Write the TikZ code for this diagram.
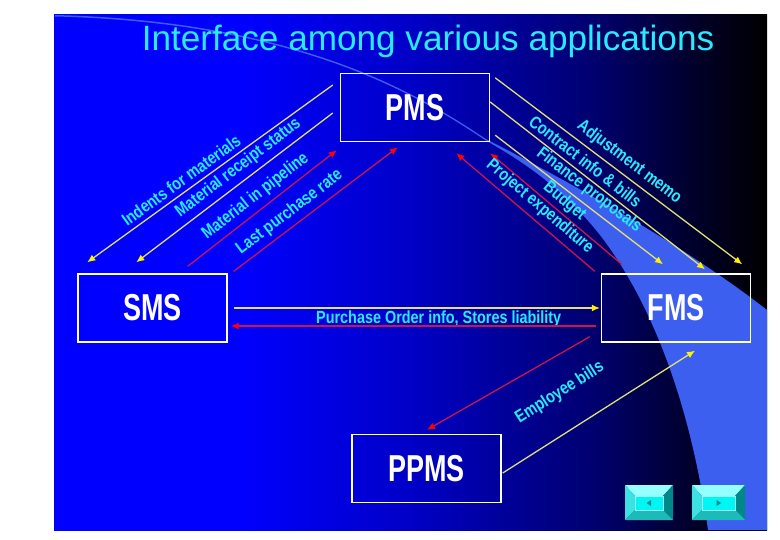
\documentclass[tikz,border=0pt]{standalone}
\usepackage{fontspec}
\setmainfont{Liberation Sans}
\newfontfamily\labfont[FakeStretch=0.82]{Liberation Sans}
\newfontfamily\boxfont[FakeStretch=0.72]{Liberation Sans}
\usepackage{xcolor}
\usepackage{tikz}
\usetikzlibrary{arrows.meta,calc}

\definecolor{slidecyan}{RGB}{40,235,255}
\definecolor{wedgeblue}{RGB}{60,95,240}
\definecolor{yline}{RGB}{225,225,120}
\definecolor{rline}{RGB}{205,20,75}
\definecolor{btnface}{RGB}{0,245,245}
\definecolor{btnlight}{RGB}{150,255,255}
\definecolor{btnmid}{RGB}{60,225,225}
\definecolor{btnlow}{RGB}{30,185,185}
\definecolor{btndark}{RGB}{0,135,135}

\pgfdeclarehorizontalshading{slidebg}{100bp}{color(0bp)=(blue); color(38bp)=(blue);
  color(50bp)=(blue!78!black); color(63bp)=(blue!43!black); color(70bp)=(blue!16!black);
  color(75bp)=(black); color(100bp)=(black)}

\begin{document}
\begin{tikzpicture}[x=0.03cm, y=-0.03cm,
  appbox/.style={draw=white, line width=1.2pt, minimum width=4.47cm, minimum height=2.04cm,
    inner sep=0pt, text=white, font=\boxfont\bfseries\fontsize{32}{32}\selectfont},
  yarrow/.style={draw=yline, line width=1.1pt, -{Latex[length=2.4mm, width=2.1mm, color=yellow]}},
  rarrow/.style={draw=rline, line width=1.1pt, -{Latex[length=2.4mm, width=2.1mm, color=red]}},
  lab/.style={font=\labfont\bfseries\fontsize{15}{15}\selectfont, text=slidecyan,
    sloped, above, inner sep=4pt}]
  \useasboundingbox (0,0) rectangle (780,540);
  % slide background
  \shade[shading=slidebg] (54,15) rectangle (767,530);
  \fill[wedgeblue] (55,15) .. controls (300,21) and (420,95) .. (485,138.5)
    .. controls (558,176) and (680,242) .. (767,310) -- (767,530) -- (708,530)
    .. controls (690,400) and (650,300) .. (600,235)
    .. controls (560,185) and (520,160) .. (485,140)
    .. controls (420,96.5) and (300,22.5) .. (55,16.5) -- cycle;
  \node[font=\fontsize{30}{30}\selectfont, text=slidecyan, anchor=base] (title) at (428,51)
    {Interface among various applications};

  \node[appbox] (pms)  at (415,107.5) {PMS};
  \node[appbox] (sms)  at (152.5,308) {SMS};
  \node[appbox] (fms)  at (676,308)   {FMS};
  \node[appbox] (ppms) at (426.5,468.5) {PPMS};

  % PMS and SMS
  \draw[yarrow] ($(pms.west)+(-7,-22.5)$) -- ($(sms.north west)+(10,-11)$)
    node[lab, pos=0.59] {Indents for materials};
  \draw[yarrow] ($(pms.west)+(-7,5.5)$) -- ($(sms.north west)+(59,-11)$)
    node[lab, pos=0.44] {Material receipt status};
  \draw[rarrow] ($(sms.north east)+(-40,-7)$) -- ($(pms.south west)+(-3,8)$)
    node[lab, pos=0.51] {Material in pipeline};
  \draw[rarrow] ($(sms.north east)+(6,-2)$) -- ($(pms.south west)+(58,5)$)
    node[lab, pos=0.39] {Last purchase rate};
  % PMS and FMS
  \draw[yarrow] ($(pms.north east)+(5,5)$) -- ($(fms.north east)+(-9,-9)$)
    node[lab, pos=0.51] {Adjustment memo};
  \draw[yarrow] ($(pms.east)+(0,-5.5)$) -- ($(fms.north)+(29,-4)$)
    node[lab, pos=0.41] {Contract info \& bills};
  \draw[yarrow] ($(pms.south east)+(5,-7)$) -- ($(fms.north)+(-13,-9)$)
    node[lab, pos=0.51] {Finance proposals};
  \draw[rarrow] ($(fms.north west)+(21,-9)$) -- ($(pms.south east)+(0,11)$)
    node[lab, pos=0.49, inner sep=2pt] {Budget};
  \draw[rarrow] ($(fms.north west)+(-6,-2)$) -- ($(pms.south east)+(-34,11)$)
    node[lab, pos=0.46] {Project expenditure};
  % SMS and FMS
  \draw[yarrow] ($(sms.east)+(6,0)$) -- ($(fms.west)+(-1,0)$)
    node[lab, below, pos=0.56, inner sep=2pt] {Purchase Order info, Stores liability};
  \draw[rarrow] ($(fms.west)+(-5,18)$) -- ($(sms.east)+(3,18)$);
  % FMS and PPMS
  \draw[rarrow] ($(fms.south west)+(-11,-6)$) -- ($(ppms.north)+(0.5,-4)$);
  \draw[yarrow] ($(ppms.east)+(1,4.5)$) -- ($(fms.south)+(19,8)$)
    node[lab, pos=0.40, inner sep=24pt] {Employee bills};

  % navigation buttons
  \foreach \bx/\bw/\dir in {625/48/-1,692/53/1}{
    \fill[btnlight] (\bx,485) -- ({\bx+\bw},485) -- ({\bx+\bw-10},496) -- ({\bx+10},496) -- cycle;
    \fill[btnmid] (\bx,485) -- ({\bx+10},496) -- ({\bx+10},510) -- (\bx,520) -- cycle;
    \fill[btndark] ({\bx+\bw},485) -- ({\bx+\bw},520) -- ({\bx+\bw-10},510) -- ({\bx+\bw-10},496) -- cycle;
    \fill[btnlow] (\bx,520) -- ({\bx+\bw},520) -- ({\bx+\bw-10},510) -- ({\bx+10},510) -- cycle;
    \filldraw[fill=btnface, draw=btnlight, line width=0.5pt] ({\bx+10},496) rectangle ({\bx+\bw-10},510);
    \fill[btndark] ({\bx+\bw/2+2.5*\dir},503) -- ({\bx+\bw/2-2*\dir},500)
      -- ({\bx+\bw/2-2*\dir},506) -- cycle;
  }
\end{tikzpicture}
\end{document}
